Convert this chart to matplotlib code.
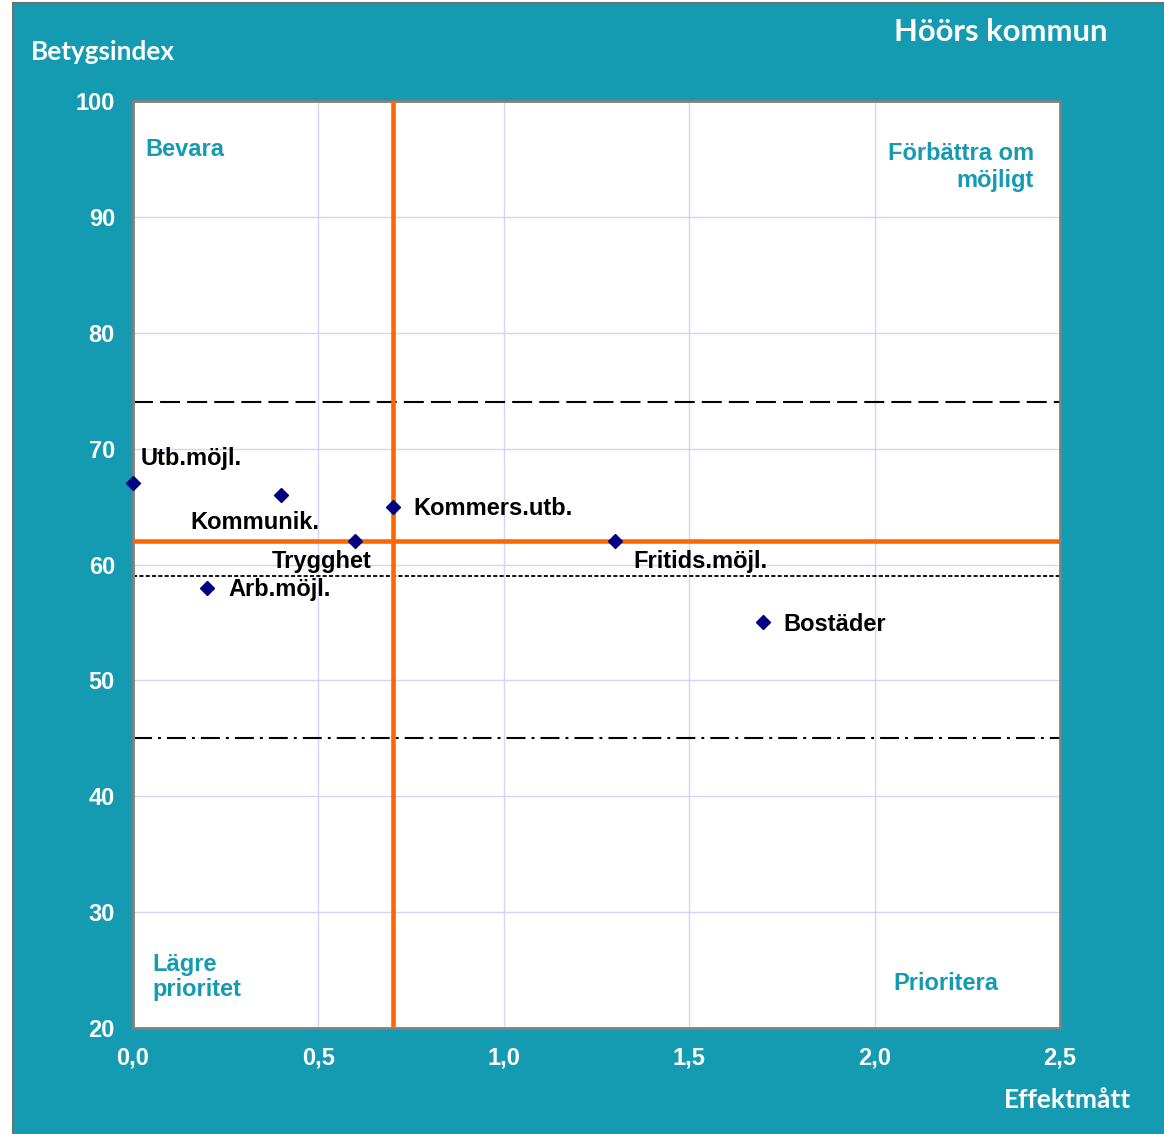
import matplotlib
matplotlib.use('Agg')
import matplotlib.pyplot as plt
from matplotlib.patches import Rectangle

# data
labels = ['Utb.möjl.', 'Kommunik.', 'Kommers.utb.', 'Trygghet', 'Fritids.möjl.', 'Arb.möjl.', 'Bostäder']
effekt = [0.0, 0.4, 0.7, 0.6, 1.3, 0.2, 1.7]
betyg = [67, 66, 65, 62, 62, 58, 55]
# label offsets in pixels (dx, dy) and alignment
offsets = [(8, 25, 'left'), (38, -28, 'right'), (21, -2, 'left'), (16, -20, 'right'), (18, -20, 'left'), (21, -2, 'left'), (20, -2, 'left')]

x_ticks = [0.0, 0.5, 1.0, 1.5, 2.0, 2.5]
x_ticklabels = ['0,0', '0,5', '1,0', '1,5', '2,0', '2,5']
y_ticks = [20, 30, 40, 50, 60, 70, 80, 90, 100]

mean_x = 0.7
mean_y = 62
line_hi = 74
line_mid = 59
line_lo = 45

teal = '#149AB1'
navy = '#000080'
orange = '#FF6600'

fig = plt.figure(figsize=(11.64, 11.34), dpi=100)
fig.patch.set_facecolor('white')
fig.patches.append(Rectangle((13 / 1164, -0.01), 1.0, (1134 - 3) / 1134 + 0.01,
                             transform=fig.transFigure, facecolor=teal,
                             edgecolor='#707070', linewidth=1.5, zorder=-5))

ax = fig.add_axes([133 / 1164, 1 - 1028 / 1134, 927 / 1164, 927 / 1134])
ax.set_zorder(2)
ax.set_facecolor('white')
ax.set_xlim(0, 2.5)
ax.set_ylim(20, 100)
ax.set_xticks(x_ticks)
ax.set_xticklabels(x_ticklabels)
ax.set_yticks(y_ticks)
ax.grid(True, color='#D4D4F8', linewidth=1.0, zorder=0)
ax.tick_params(length=0, colors='white', labelsize=17, pad=13)
for lab in ax.get_xticklabels() + ax.get_yticklabels():
    lab.set_fontweight('bold')
    lab.set_family('Liberation Sans')
for s in ax.spines.values():
    s.set_color('#808080')
    s.set_linewidth(2)

ax.axhline(line_hi, color='black', linewidth=1.5, linestyle=(0, (9.6, 3.4)), zorder=2)
ax.axhline(line_mid, color='black', linewidth=1.3, linestyle=(0, (2.3, 1.2)), zorder=2)
ax.axhline(line_lo, color='black', linewidth=1.5, linestyle=(0, (9.1, 2.9, 1.4, 2.9)), zorder=2)
ax.axvline(mean_x, color=orange, linewidth=3.3, zorder=3)
ax.axhline(mean_y, color=orange, linewidth=3.3, zorder=3)

ax.plot(effekt, betyg, linestyle='none', marker='D', markersize=7, color=navy, zorder=5, clip_on=False)
for lab, x, y, (dx, dy, ha) in zip(labels, effekt, betyg, offsets):
    ax.annotate(lab, (x, y), xytext=(dx, dy), textcoords='offset pixels', ha=ha, va='center',
                fontsize=17, fontweight='bold', family='Liberation Sans', color='black', zorder=6)

qfont = dict(fontsize=17, fontweight='bold', family='Liberation Sans', color=teal)
ax.text(12 / 927, 1 - 49 / 927, 'Bevara', transform=ax.transAxes, ha='left', va='center', **qfont)
ax.text(1 - 26 / 927, 1 - 66 / 927, 'Förbättra om\nmöjligt', transform=ax.transAxes, ha='right', va='center',
        linespacing=1.2, **qfont)
ax.text(19 / 927, 1 - 876 / 927, 'Lägre\nprioritet', transform=ax.transAxes, ha='left', va='center',
        linespacing=1.15, **qfont)
ax.text(760 / 927, 1 - 882 / 927, 'Prioritera', transform=ax.transAxes, ha='left', va='center', **qfont)

tfont = dict(fontweight='bold', family='Lato', color='white')
fig.text(31 / 1164, 1 - 52 / 1134, 'Betygsindex', ha='left', va='center', fontsize=18.8, **tfont)
fig.text(1107 / 1164, 1 - 32 / 1134, 'Höörs kommun', ha='right', va='center', fontsize=22.3, **tfont)
fig.text(1131 / 1164, 1 - 1100 / 1134, 'Effektmått', ha='right', va='center', fontsize=19, **tfont)

fig.savefig('out.png', dpi=100, facecolor=fig.get_facecolor())
